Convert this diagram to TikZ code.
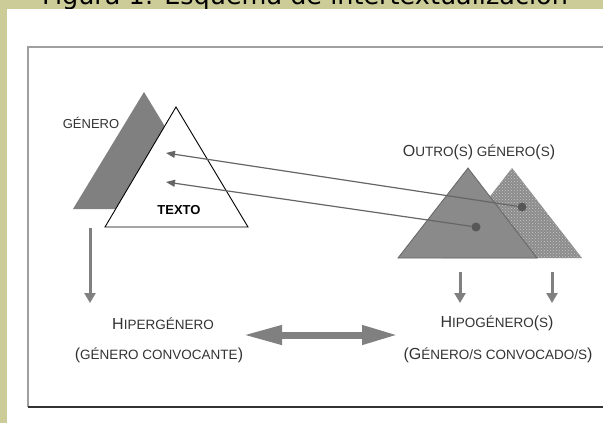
\documentclass[tikz,border=0pt]{standalone}
\usepackage{fontspec}
\setmainfont{Liberation Sans}
\newfontfamily\titlefont{DejaVu Sans}
\usetikzlibrary{arrows.meta,patterns}
\definecolor{olive}{HTML}{CCCC99}
\definecolor{txt}{HTML}{333333}
\definecolor{midgray}{HTML}{808080}
\definecolor{trigray}{HTML}{8A8A8A}
\definecolor{linegray}{HTML}{666666}
\definecolor{texgray}{HTML}{8C8C8C}
\definecolor{texlight}{HTML}{C8C8C8}
\newcommand\Bg[1]{{\fontsize{16}{18}\selectfont #1}}
\tikzset{
  lbl/.style={text=txt, inner sep=0pt, font=\fontsize{13.5}{16}\selectfont},
  conn/.style={draw=linegray, line width=1.2pt, -{Triangle[length=9pt,width=7pt]}},
  downarr/.style={draw=midgray, line width=3pt, -{Triangle[length=10pt,width=11pt]}},
  dotst/.style={circle, fill=linegray!85!black, inner sep=0pt, minimum size=9pt},
}
\begin{document}
\begin{tikzpicture}[x=1pt,y=-1pt]
\useasboundingbox (0,0) rectangle (603,423);
\clip (0,0) rectangle (603,423);
% background and title
\fill[olive] (0,0) rectangle (603,423);
\node[anchor=base west, inner sep=0pt, font=\titlefont\fontsize{25.5}{28}\selectfont] (title) at (42,5) {Figura 1: Esquema de intertextualización};
\fill[white] (7,9) rectangle (603,423);
% frame
\draw[gray!75, line width=1.5pt] (610,47) -- (28,47) -- (28,407);
\draw[black!80, line width=1.5pt] (28,407) -- (610,407);
% left triangles
\fill[midgray] (144,92) -- (73,209) -- (215,209) -- cycle;
\draw[black, fill=white, line width=0.9pt] (176,107) -- (105,227) -- (248,227) -- cycle;
\node[lbl, font=\fontsize{13}{15}\selectfont] (genero) at (91,123) {GÉNERO};
\node[lbl, font=\bfseries\fontsize{13}{15}\selectfont, text=black] (texto) at (179,210) {TEXTO};
% right triangles
\fill[texgray] (512,168) -- (442,258) -- (582,258) -- cycle;
\fill[pattern=crosshatch dots, pattern color=texlight] (512,168) -- (442,258) -- (582,258) -- cycle;
\draw[draw=linegray, fill=trigray, line width=0.8pt] (468,168) -- (398,258) -- (537,258) -- cycle;
\node[lbl] (outro) at (479,152) {\Bg{O}UTRO\Bg{(}S\Bg{)} GÉNERO\Bg{(}S\Bg{)}};
% dots and connectors
\node[dotst] (d1) at (522,207) {};
\node[dotst] (d2) at (476,227) {};
\coordinate (t1) at (166,153);
\coordinate (t2) at (166,182);
\draw[conn] (d1) -- (t1);
\draw[conn] (d2) -- (t2);
% down arrows
\coordinate (a1s) at (90,228);
\coordinate (a1e) at (90,303);
\coordinate (a2s) at (460,272);
\coordinate (a2e) at (460,303);
\coordinate (a3s) at (552,272);
\coordinate (a3e) at (552,303);
\draw[downarr] (a1s) -- (a1e);
\draw[downarr] (a2s) -- (a2e);
\draw[downarr] (a3s) -- (a3e);
% bottom labels
\node[lbl] (hiper) at (163,324) {\Bg{H}IPERGÉNERO};
\node[lbl] (conv) at (159,355) {\Bg{(}GÉNERO CONVOCANTE\Bg{)}};
\node[lbl] (hipo) at (497,323) {\Bg{H}IPOGÉNERO\Bg{(}S\Bg{)}};
\node[lbl] (convd) at (498,355) {\Bg{(G}ÉNERO/S CONVOCADO/S\Bg{)}};
% double arrow
\coordinate (ha) at (243,335);
\coordinate (hb) at (398,335);
\draw[midgray, line width=7pt, {Triangle[length=39pt,width=18pt]}-{Triangle[length=36pt,width=18pt]}] (ha) -- (hb);
\end{tikzpicture}
\end{document}
